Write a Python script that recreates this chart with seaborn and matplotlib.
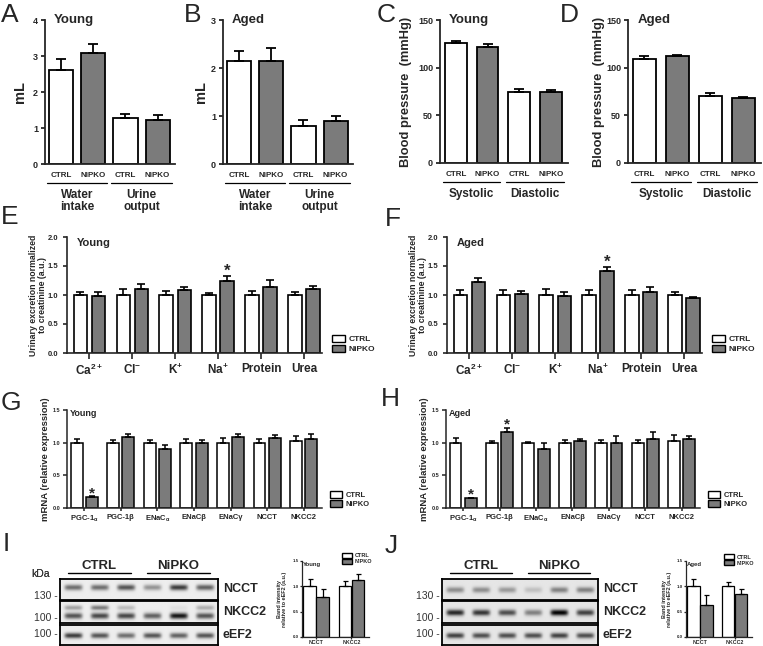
import numpy as np
import pandas as pd
import matplotlib.pyplot as plt
from matplotlib.patches import Patch
import seaborn as sns

# Data
genotypes = ["CTRL", "NiPKO"]

vol_groups = ["Water\nintake", "Urine\noutput"]
vol_young_ctrl = [2.61, 1.29]
vol_young_ctrl_sem = [0.30, 0.10]
vol_young_ko = [3.09, 1.21]
vol_young_ko_sem = [0.24, 0.16]
vol_aged_ctrl = [2.15, 0.80]
vol_aged_ctrl_sem = [0.20, 0.11]
vol_aged_ko = [2.15, 0.89]
vol_aged_ko_sem = [0.26, 0.11]

bp_groups = ["Systolic", "Diastolic"]
bp_young_ctrl = [125.4, 74.3]
bp_young_ctrl_sem = [2.8, 2.8]
bp_young_ko = [121.5, 74.3]
bp_young_ko_sem = [3.5, 2.1]
bp_aged_ctrl = [109.2, 70.0]
bp_aged_ctrl_sem = [2.8, 3.2]
bp_aged_ko = [112.3, 68.3]
bp_aged_ko_sem = [1.1, 0.7]

ions = [r"Ca$^{2+}$", r"Cl$^{-}$", r"K$^{+}$", r"Na$^{+}$", "Protein", "Urea"]
urine_young_ctrl = [1.00, 1.00, 1.00, 1.00, 1.00, 1.00]
urine_young_ctrl_sem = [0.06, 0.11, 0.07, 0.04, 0.07, 0.06]
urine_young_ko = [0.99, 1.11, 1.08, 1.24, 1.14, 1.10]
urine_young_ko_sem = [0.07, 0.08, 0.06, 0.09, 0.12, 0.05]
urine_young_sig = [False, False, False, True, False, False]
urine_aged_ctrl = [1.00, 1.00, 1.00, 1.00, 1.00, 1.00]
urine_aged_ctrl_sem = [0.09, 0.08, 0.11, 0.08, 0.08, 0.05]
urine_aged_ko = [1.22, 1.02, 0.99, 1.41, 1.05, 0.94]
urine_aged_ko_sem = [0.08, 0.05, 0.06, 0.08, 0.09, 0.03]
urine_aged_sig = [False, False, False, True, False, False]

genes = [r"PGC-1$_{\alpha}$", "PGC-1β", r"ENaC$_{\alpha}$", "ENaCβ", "ENaCγ", "NCCT", "NKCC2"]
mrna_young_ctrl = [1.00, 1.00, 1.00, 1.00, 1.00, 1.00, 1.02]
mrna_young_ctrl_sem = [0.05, 0.04, 0.04, 0.05, 0.07, 0.05, 0.08]
mrna_young_ko = [0.17, 1.09, 0.91, 1.00, 1.08, 1.07, 1.06]
mrna_young_ko_sem = [0.01, 0.05, 0.05, 0.04, 0.05, 0.04, 0.07]
mrna_young_sig = [True, False, False, False, False, False, False]
mrna_aged_ctrl = [1.00, 1.00, 1.00, 1.00, 1.00, 1.00, 1.02]
mrna_aged_ctrl_sem = [0.07, 0.03, 0.01, 0.04, 0.04, 0.04, 0.10]
mrna_aged_ko = [0.15, 1.16, 0.91, 1.02, 1.00, 1.06, 1.05]
mrna_aged_ko_sem = [0.01, 0.07, 0.08, 0.03, 0.10, 0.10, 0.05]
mrna_aged_sig = [True, True, False, False, False, False, False]

proteins = ["NCCT", "NKCC2"]
wb_young_ctrl = [1.00, 1.00]
wb_young_ctrl_sem = [0.15, 0.10]
wb_young_ko = [0.79, 1.12]
wb_young_ko_sem = [0.16, 0.13]
wb_aged_ctrl = [1.00, 1.00]
wb_aged_ctrl_sem = [0.14, 0.08]
wb_aged_ko = [0.64, 0.84]
wb_aged_ko_sem = [0.18, 0.11]

# western blot band darkness per lane
lane_groups = ["CTRL", "CTRL", "CTRL", "NiPKO", "NiPKO", "NiPKO"]
blot_rows = ["NCCT", "NKCC2", "eEF2"]
blot_kda = ["130 -", "100 -", "100 -"]
blot_young_ncct = [0.50, 0.50, 0.60, 0.35, 0.70, 0.55]
blot_young_nkcc2 = [0.60, 0.65, 0.65, 0.55, 0.85, 0.60]
blot_young_nkcc2_upper = [0.30, 0.45, 0.20, 0.00, 0.05, 0.25]
blot_young_eef2 = [0.70, 0.60, 0.50, 0.60, 0.55, 0.60]
blot_aged_ncct = [0.35, 0.35, 0.30, 0.15, 0.40, 0.40]
blot_aged_nkcc2 = [0.75, 0.70, 0.60, 0.40, 0.90, 0.65]
blot_aged_eef2 = [0.65, 0.60, 0.60, 0.60, 0.65, 0.60]

WHITE = "white"
GRAY = "#7b7b7b"

sns.set_style("ticks")
plt.rcParams["font.family"] = ["Liberation Sans", "DejaVu Sans"]
plt.rcParams["font.weight"] = "bold"
plt.rcParams["mathtext.fontset"] = "custom"
plt.rcParams["mathtext.rm"] = "Liberation Sans:bold"
plt.rcParams["mathtext.it"] = "Liberation Sans:bold"
plt.rcParams["mathtext.bf"] = "Liberation Sans:bold"
plt.rcParams["mathtext.sf"] = "Liberation Sans:bold"

W, H = 763, 646
fig = plt.figure(figsize=(W / 100, H / 100), dpi=100)


def px_axes(x0, y0, x1, y1):
    return fig.add_axes([x0 / W, 1 - y1 / H, (x1 - x0) / W, (y1 - y0) / H])


def bar_panel(ax, cats, ctrl, ctrl_sem, ko, ko_sem, width, gap, lw, cap):
    df = pd.DataFrame({
        "cat": cats + cats,
        "genotype": ["CTRL"] * len(cats) + ["NiPKO"] * len(cats),
        "value": ctrl + ko,
    })
    sns.barplot(data=df, x="cat", y="value", hue="genotype", palette=[WHITE, GRAY],
                edgecolor="black", linewidth=lw, width=width, gap=gap,
                errorbar=None, legend=False, dodge=True, ax=ax)
    bars = sorted(ax.patches, key=lambda p: p.get_x())
    vals = [v for pair in zip(ctrl, ko) for v in pair]
    sems = [s for pair in zip(ctrl_sem, ko_sem) for s in pair]
    for p, v, s in zip(bars, vals, sems):
        ax.errorbar(p.get_x() + p.get_width() / 2, v, yerr=[[0], [s]], fmt="none",
                    ecolor="black", elinewidth=lw, capsize=cap, capthick=lw, zorder=1)
    sns.despine(ax=ax)
    for s in ["left", "bottom"]:
        ax.spines[s].set_linewidth(lw)
    ax.set_xlabel("")
    ax.tick_params(width=lw, length=3, direction="out")
    return bars, vals, sems


def y_axis(ax, lo, hi, ticks, fmt, size, label, label_x, label_size):
    ax.set_ylim(lo, hi)
    ax.set_yticks(ticks)
    ax.set_yticklabels([fmt.format(t) for t in ticks], fontsize=size)
    ax.set_ylabel(label, fontsize=label_size, fontweight="bold", linespacing=1.0)
    ax.yaxis.set_label_coords(label_x, 0.5)


def stars(ax, bars, vals, sems, sig, size, off):
    kos = bars[1::2]
    for p, v, s, flag in zip(kos, vals[1::2], sems[1::2], sig):
        if flag:
            ax.annotate("*", (p.get_x() + p.get_width() / 2, v + s), xytext=(0, off),
                        textcoords="offset points", ha="center", va="bottom",
                        fontsize=size, fontweight="bold")


def top_panel(rect, groups, ctrl, ctrl_sem, ko, ko_sem, gap, ylim, ticks, label, label_x, title):
    ax = px_axes(*rect)
    hpx = rect[3] - rect[1]
    bars, vals, sems = bar_panel(ax, groups, ctrl, ctrl_sem, ko, ko_sem, 1.0, gap, 1.3, 3.5)
    ax.set_xlim(-0.5, 1.52)
    y_axis(ax, 0, ylim, ticks, "{:g}", 6.5, label, label_x, 10.5 if label == "mL" else 9.3)
    ax.tick_params(axis="y", pad=2)
    ax.set_xticks([p.get_x() + p.get_width() / 2 for p in bars])
    ax.set_xticklabels(genotypes * len(groups), fontsize=5.8)
    ax.tick_params(axis="x", length=0, pad=6)
    tr = ax.get_xaxis_transform()
    for i, g in enumerate(groups):
        b0, b1 = bars[2 * i], bars[2 * i + 1]
        x0 = b0.get_x() - 0.03
        x1 = b1.get_x() + b1.get_width() + 0.03
        ax.plot([x0, x1], [-19 / hpx] * 2, color="black", lw=0.9, transform=tr, clip_on=False)
        ax.text((x0 + x1) / 2, -25 / hpx, g, transform=tr, ha="center", va="top",
                fontsize=8.5, linespacing=1.05)
    ax.text(0.07, 1.0, title, transform=ax.transAxes, ha="left", va="center", fontsize=9.5)
    return ax


top_panel((45, 20, 175, 164), vol_groups, vol_young_ctrl, vol_young_ctrl_sem, vol_young_ko,
          vol_young_ko_sem, 0.25, 4, [0, 1, 2, 3, 4], "mL", -0.14, "Young")
top_panel((223, 20, 353, 164), vol_groups, vol_aged_ctrl, vol_aged_ctrl_sem, vol_aged_ko,
          vol_aged_ko_sem, 0.25, 3, [0, 1, 2, 3], "mL", -0.115, "Aged")
top_panel((440, 20, 568, 163), bp_groups, bp_young_ctrl, bp_young_ctrl_sem, bp_young_ko,
          bp_young_ko_sem, 0.31, 150, [0, 50, 100, 150], "Blood pressure  (mmHg)", -0.22, "Young")
top_panel((628, 20, 761, 163), bp_groups, bp_aged_ctrl, bp_aged_ctrl_sem, bp_aged_ko,
          bp_aged_ko_sem, 0.31, 150, [0, 50, 100, 150], "Blood pressure  (mmHg)", -0.17, "Aged")


def legend(ax, x, y, loc, size, hl, hh):
    handles = [Patch(facecolor=WHITE, edgecolor="black", linewidth=1.0),
               Patch(facecolor=GRAY, edgecolor="black", linewidth=1.0)]
    ax.legend(handles, genotypes, loc=loc, bbox_to_anchor=(x, y), frameon=False,
              borderpad=0, borderaxespad=0, labelspacing=0.15, handletextpad=0.5,
              handlelength=hl, handleheight=hh, prop={"size": size, "weight": "bold"})


def mid_panel(rect, cats, ctrl, ctrl_sem, ko, ko_sem, sig, title, kind):
    ax = px_axes(*rect)
    if kind == "urine":
        bars, vals, sems = bar_panel(ax, cats, ctrl, ctrl_sem, ko, ko_sem, 0.84, 0.26, 1.2, 2.8)
        ax.set_xlim(-0.52, 5.42)
        y_axis(ax, 0, 2.0, [0, 0.5, 1.0, 1.5, 2.0], "{:.1f}", 5.5,
               "Urinary excretion normalized\nto creatinine (a.u.)", -0.08, 6.3)
        ax.set_xticks(range(len(cats)))
        ax.set_xticklabels(cats, fontsize=8.5)
        ax.tick_params(axis="x", length=4, pad=3)
        stars(ax, bars, vals, sems, sig, 12, -2)
        ax.text(0.04, 0.95, title, transform=ax.transAxes, ha="left", va="center", fontsize=8)
        legend(ax, 1.04, 0.0, "lower left", 6, 1.5, 0.9)
    else:
        bars, vals, sems = bar_panel(ax, cats, ctrl, ctrl_sem, ko, ko_sem, 0.834, 0.22, 1.1, 2.4)
        ax.set_xlim(-0.47, 6.5)
        y_axis(ax, 0, 1.5, [0, 0.5, 1.0, 1.5], "{:.1f}", 4, "mRNA (relative expression)", -0.068, 6.8)
        ax.set_xticks(range(len(cats)))
        ax.set_xticklabels(cats, fontsize=5.5)
        ax.tick_params(axis="x", length=2.5, pad=2)
        ax.tick_params(axis="y", pad=1.5)
        stars(ax, bars, vals, sems, sig, 11, -3)
        ax.text(0.01, 0.96, title, transform=ax.transAxes, ha="left", va="center", fontsize=6.5)
        legend(ax, 1.03, 0.0, "lower left", 5.5, 1.6, 0.9)
    return ax


mid_panel((67, 237, 322, 353), ions, urine_young_ctrl, urine_young_ctrl_sem, urine_young_ko,
          urine_young_ko_sem, urine_young_sig, "Young", "urine")
mid_panel((447, 237, 702, 353), ions, urine_aged_ctrl, urine_aged_ctrl_sem, urine_aged_ko,
          urine_aged_ko_sem, urine_aged_sig, "Aged", "urine")
mid_panel((67, 410, 322, 508), genes, mrna_young_ctrl, mrna_young_ctrl_sem, mrna_young_ko,
          mrna_young_ko_sem, mrna_young_sig, "Young", "mrna")
mid_panel((446, 410, 700, 508), genes, mrna_aged_ctrl, mrna_aged_ctrl_sem, mrna_aged_ko,
          mrna_aged_ko_sem, mrna_aged_sig, "Aged", "mrna")


def blot_image(main, center, upper=None, upper_center=0.3, bg=0.93):
    lanes = len(main)
    yy = np.linspace(0, 1, 40)[:, None]
    xx = np.linspace(0, lanes, lanes * 40, endpoint=False)[None, :]
    idx = np.clip(xx.astype(int), 0, lanes - 1)
    xprof = np.exp(-((xx - idx - 0.5) / 0.34) ** 6)
    img = bg - np.asarray(main)[idx] * xprof * np.exp(-((yy - center) / 0.14) ** 2)
    if upper is not None:
        img = img - np.asarray(upper)[idx] * xprof * np.exp(-((yy - upper_center) / 0.11) ** 2)
    return np.clip(img, 0, 1)


def blot_panel(x0, x1, rows, title):
    row_px = [(579, 600), (601, 623), (625, 645)]
    kda_y = [0.19, 0.23, 0.55]
    axes = []
    for (y0, y1), img, name, kda, ky in zip(row_px, rows, blot_rows, blot_kda, kda_y):
        ax = fig.add_axes([x0 / W, 1 - y1 / H, (x1 - x0) / W, (y1 - y0) / H])
        ax.imshow(img, cmap="gray", vmin=0, vmax=1, aspect="auto",
                  extent=(0, len(lane_groups), 1, 0), interpolation="bilinear")
        ax.set_xticks([])
        ax.set_yticks([])
        for s in ax.spines.values():
            s.set_linewidth(1.3)
            s.set_color("black")
        ax.text(1.03, 0.5, name, transform=ax.transAxes, ha="left", va="center", fontsize=9)
        ax.text(-0.012, ky, kda, transform=ax.transAxes, ha="right", va="center",
                fontsize=7.5, fontweight="normal", color="#333333")
        axes.append(ax)
    top = axes[0]
    hpx = row_px[0][1] - row_px[0][0]
    tr = top.get_xaxis_transform()
    top.text(-(x0 - 40) / (x1 - x0), 1 + 5 / hpx, "kDa", transform=top.transAxes, ha="center",
             va="center", fontsize=7.5, fontweight="normal", color="#333333")
    for g in genotypes:
        pos = [i + 0.5 for i, lg in enumerate(lane_groups) if lg == g]
        top.plot([min(pos) - 0.2, max(pos) + 0.2], [1 + 6 / hpx] * 2, color="black", lw=1.0,
                 transform=tr, clip_on=False)
        top.text(np.mean(pos), 1 + 7 / hpx, g, transform=tr, ha="center", va="bottom", fontsize=9.5)


blot_panel(60, 218, [blot_image(blot_young_ncct, 0.4),
                     blot_image(blot_young_nkcc2, 0.68, blot_young_nkcc2_upper, 0.3),
                     blot_image(blot_young_eef2, 0.53)], "Young")
blot_panel(442, 598, [blot_image(blot_aged_ncct, 0.52, bg=0.9),
                      blot_image(blot_aged_nkcc2, 0.53, bg=0.9),
                      blot_image(blot_aged_eef2, 0.53, bg=0.9)], "Aged")


def wb_panel(rect, ctrl, ctrl_sem, ko, ko_sem, title, label_x, leg_x, leg_y):
    ax = px_axes(*rect)
    bar_panel(ax, proteins, ctrl, ctrl_sem, ko, ko_sem, 0.74, 0.03, 0.9, 1.8)
    ax.set_xlim(-0.4, 1.5)
    y_axis(ax, 0, 1.5, [0, 0.5, 1.0, 1.5], "{:.1f}", 3.2,
           "Band intensity\nrelative to eEF2 (a.u.)", label_x, 4)
    ax.set_xticks(range(len(proteins)))
    ax.set_xticklabels(proteins, fontsize=3.8)
    ax.tick_params(length=1.5, pad=1)
    ax.text(0.02, 0.95, title, transform=ax.transAxes, ha="left", va="center", fontsize=4.3)
    legend(ax, leg_x, leg_y, "upper left", 4, 1.8, 1.0)


wb_panel((302, 561, 369, 637), wb_young_ctrl, wb_young_ctrl_sem, wb_young_ko, wb_young_ko_sem,
         "Young", -0.22, 0.6, 1.11)
wb_panel((686, 561, 752, 637), wb_aged_ctrl, wb_aged_ctrl_sem, wb_aged_ko, wb_aged_ko_sem,
         "Aged", -0.21, 0.58, 1.09)

# panel letters
letters = [("A", 1, 3), ("B", 184, 3), ("C", 377, 3), ("D", 560, 3), ("E", 1, 205),
           ("F", 385, 207), ("G", 1, 391), ("H", 381, 387), ("I", 3, 532), ("J", 385, 534)]
for s, x, y in letters:
    fig.text(x / W, 1 - y / H, s, ha="left", va="top", fontsize=19, fontweight="normal")

fig.savefig("out.png", dpi=100)
